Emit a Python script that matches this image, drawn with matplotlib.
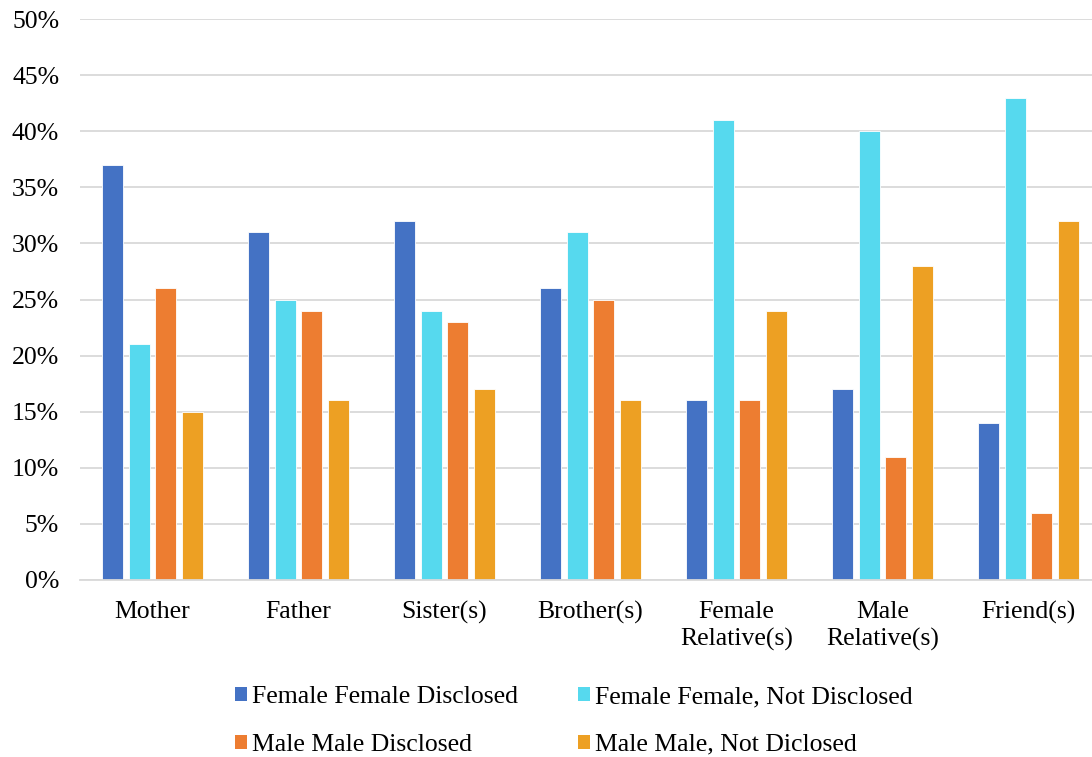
import matplotlib
matplotlib.use("Agg")
import matplotlib.pyplot as plt
from matplotlib.patches import Patch
import numpy as np

categories = ["Mother", "Father", "Sister(s)", "Brother(s)", "Female\nRelative(s)", "Male\nRelative(s)", "Friend(s)"]
series_names = ["Female Female Disclosed", "Female Female, Not Disclosed", "Male Male Disclosed", "Male Male, Not Diclosed"]
ff_disclosed = [37, 31, 32, 26, 16, 17, 14]
ff_not_disclosed = [21, 25, 24, 31, 41, 40, 43]
mm_disclosed = [26, 24, 23, 25, 16, 11, 6]
mm_not_disclosed = [15, 16, 17, 16, 24, 28, 32]
yticks = [0, 5, 10, 15, 20, 25, 30, 35, 40, 45, 50]

colors = ["#4472C4", "#56D9EE", "#ED7D31", "#EDA023"]
series = [ff_disclosed, ff_not_disclosed, mm_disclosed, mm_not_disclosed]

plt.rcParams['font.family'] = ['Liberation Serif', 'DejaVu Serif']
FS = 18.5

fig = plt.figure(figsize=(10.92, 7.57), dpi=100)
ax = fig.add_axes([80/1092, 1-580/757, 1-80/1092, (580-19)/757])

x = np.arange(len(categories))
offsets = [-0.274, -0.089, 0.089, 0.274]
width = 0.145
for vals, off, c in zip(series, offsets, colors):
    ax.bar(x + off, vals, width=width, color=c, edgecolor="white", linewidth=0.6, zorder=3)

ax.set_xlim(-0.497, 6.435)
ax.set_ylim(0, 50)
ax.set_yticks(yticks)
ax.set_yticklabels([f"{v}%" for v in yticks], fontsize=FS)
ax.set_xticks(x)
ax.set_xticklabels(categories, fontsize=FS, linespacing=1.3)
ax.tick_params(axis='both', length=0)
ax.tick_params(axis='x', pad=15)
ax.tick_params(axis='y', pad=15)
ax.grid(axis='y', color="#D9D9D9", linewidth=1.3, zorder=0)
for s in ["top", "right", "left"]:
    ax.spines[s].set_visible(False)
ax.spines["bottom"].set_color("#D9D9D9")
ax.spines["bottom"].set_linewidth(1.3)
ax.spines["bottom"].set_zorder(4)

handles = [Patch(facecolor=c, edgecolor="none") for c in colors]
order = [0, 2, 1, 3]
fig.legend([handles[i] for i in order], [series_names[i] for i in order],
           ncol=2, loc="center", bbox_to_anchor=(574/1092, 1-721/757),
           frameon=False, fontsize=FS, handlelength=0.45, handleheight=0.45,
           handletextpad=0.2, columnspacing=2.35, labelspacing=1.0,
           borderaxespad=0, borderpad=0)

fig.savefig("out.png", dpi=100)
